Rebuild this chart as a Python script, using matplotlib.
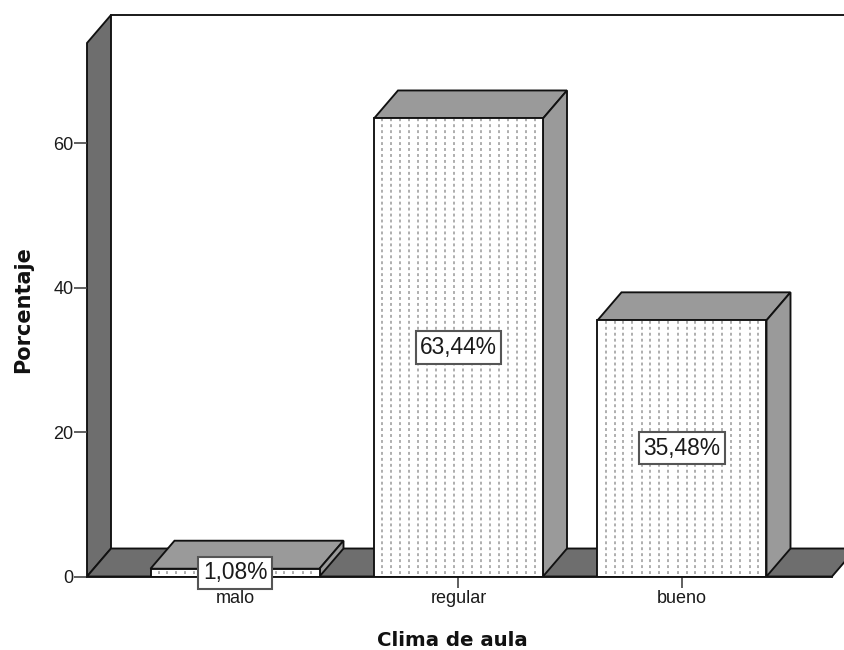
import numpy as np
import matplotlib
matplotlib.use("Agg")
import matplotlib.pyplot as plt

categories = ["malo", "regular", "bueno"]
values = [1.08, 63.44, 35.48]
labels = ["1,08%", "63,44%", "35,48%"]
yticks = [0, 20, 40, 60]

plt.rcParams['font.family'] = ['Liberation Sans', 'DejaVu Sans']

W, H = 844, 650
fig = plt.figure(figsize=(W / 100, H / 100), dpi=100)
ax = fig.add_axes([87 / W, (H - 576.5) / H, 757 / W, 576.5 / H])

px_x = 223.5   # pixels per category
px_y = 7.22    # pixels per percent
x0 = (87 - 235) / px_x
xmax = x0 + 757 / px_x
ax.set_xlim(x0, xmax)
ax.set_ylim(0, 576.5 / px_y)

dx = 24 / px_x
dy = 28 / px_y
bw = 169 / px_x
lw = 1.35
dark = "#6e6e6e"
mid = "#9a9a9a"
edge = "#111111"
wall_top = (576.5 - 15) / px_y

# walls and floor
ax.fill([x0, x0 + dx, x0 + dx, x0], [0, dy, wall_top, wall_top - dy], facecolor=dark,
        edgecolor=edge, lw=lw, clip_on=False, zorder=1)
floor_right = x0 + (832 - 87) / px_x
ax.fill([x0, x0 + dx, floor_right + dx, floor_right], [0, dy, dy, 0], facecolor=dark,
        edgecolor=edge, lw=lw, zorder=1)
ax.plot([x0 + dx, xmax], [wall_top, wall_top], color=edge, lw=lw, zorder=1)

# bars
x = np.arange(len(categories))
for xi, v in zip(x, values):
    l, r = xi - bw / 2, xi + bw / 2
    ax.fill([l, r, r + dx, l + dx], [v, v, v + dy, v + dy], facecolor=mid,
            edgecolor=edge, lw=lw, joinstyle="miter", zorder=2)
    ax.fill([r, r + dx, r + dx, r], [0, dy, v + dy, v], facecolor=mid,
            edgecolor=edge, lw=lw, joinstyle="miter", zorder=2)
ax.bar(x, values, width=bw, facecolor="white", edgecolor="none", zorder=3)
for xi, v in zip(x, values):
    l = xi - bw / 2
    cols = l + (np.arange(1, 19) * 9 - 1) / px_x
    ax.vlines(cols, 0.3, v, color="#999999", lw=1.1, linestyles=(0, (1.9, 2.0)), zorder=3)
ax.bar(x, values, width=bw, facecolor="none", edgecolor=edge, lw=lw, zorder=4)

for xi, v, t in zip(x, values, labels):
    ax.text(xi, v / 2, t, ha="center", va="center", fontsize=16.4, color="#1a1a1a", zorder=6,
            clip_on=False,
            bbox=dict(boxstyle="square,pad=0.2", facecolor="white", edgecolor="#555555", lw=1.5))

ax.set_xticks(x, categories)
ax.set_yticks(yticks)
ax.tick_params(axis="x", length=8, width=1.2, color="#444444", labelsize=13,
               labelcolor="#1a1a1a", pad=1.5)
ax.tick_params(axis="y", length=9.4, width=1.2, color="#444444", labelsize=13,
               labelcolor="#1a1a1a", pad=0.5)
for s in ["top", "right", "left"]:
    ax.spines[s].set_visible(False)
ax.spines["bottom"].set_bounds(x0, floor_right)
ax.spines["bottom"].set_linewidth(lw)
ax.spines["bottom"].set_color(edge)
ax.spines["bottom"].set_zorder(5)

fig.text(452 / W, 1 - 640 / H, "Clima de aula", family="DejaVu Sans", fontsize=14.2,
         fontweight="bold", ha="center", va="center", color="#111111")
fig.text(23 / W, 1 - 310 / H, "Porcentaje", family="DejaVu Sans", fontsize=15,
         fontweight="bold", rotation=90, ha="center", va="center", color="#111111")

fig.savefig("out.png", dpi=100)
